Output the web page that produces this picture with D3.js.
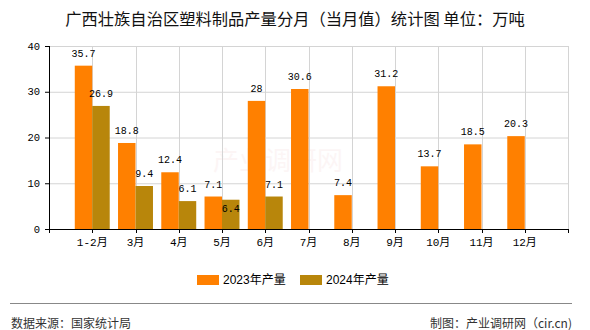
<!DOCTYPE html>
<html><head><meta charset="utf-8">
<script src="https://cdn.jsdelivr.net/npm/d3@7"></script>
<style>
html,body{margin:0;padding:0;background:#fff;}
svg{display:block;}
</style></head>
<body>
<svg id="chart" width="590" height="330"></svg>
<script>
const title = "广西壮族自治区塑料制品产量分月（当月值）统计图 单位：万吨";
const categories = ["1-2月","3月","4月","5月","6月","7月","8月","9月","10月","11月","12月"];
const series2023 = [35.7,18.8,12.4,7.1,28,30.6,7.4,31.2,13.7,18.5,20.3];
const series2024 = [26.9,9.4,6.1,6.4,7.1];
const seriesNames = ["2023年产量","2024年产量"];
const yTicks = [0,10,20,30,40];
const source = "数据来源：国家统计局";
const credit = "制图：产业调研网（cir.cn)";

const colors = ["#FF8000","#B8860B"];
const svg = d3.select("#chart");
const L = 49, R = 568, T = 46, B = 229;

const x = d3.scaleLinear().domain([0, categories.length + 1]).range([L, R]);
const y = d3.scaleLinear().domain([0, 40]).range([B, T]);
const unit = x(1) - x(0);
const bw = unit * 0.404;

// title
svg.append("text").attr("x", 295).attr("y", 25).attr("text-anchor","middle")
  .attr("font-family","'Noto Sans CJK SC',sans-serif").attr("font-size","16.3px")
  .attr("fill","#111").text(title);

// watermark
svg.append("text").attr("x", 278).attr("y", 170).attr("text-anchor","middle")
  .attr("font-family","'Noto Sans CJK SC',sans-serif").attr("font-size","26px")
  .attr("fill","#e8b4b4").attr("opacity",0.12).text("产业调研网");

// grid
const g = svg.append("g");
g.selectAll("line.hg").data(yTicks.filter(d=>d>0)).join("line")
  .attr("x1", L).attr("x2", R).attr("y1", d=>y(d)+0.5).attr("y2", d=>y(d)+0.5)
  .attr("stroke","#d4d4d4").attr("stroke-width",1);
g.selectAll("line.vg").data(d3.range(1, categories.length + 2)).join("line")
  .attr("x1", d=>Math.round(x(d))+0.5).attr("x2", d=>Math.round(x(d))+0.5)
  .attr("y1", T).attr("y2", B)
  .attr("stroke","#d4d4d4").attr("stroke-width",1);

// bars
const bars = svg.append("g");
bars.selectAll("rect.a").data(series2023).join("rect")
  .attr("x", (d,i)=>x(i+1)-bw).attr("width", bw)
  .attr("y", d=>y(d)).attr("height", d=>B-y(d)).attr("fill", colors[0]);
bars.selectAll("rect.b").data(series2024).join("rect")
  .attr("x", (d,i)=>x(i+1)).attr("width", bw)
  .attr("y", d=>y(d)).attr("height", d=>B-y(d)).attr("fill", colors[1]);

// labels
const lf = "'Liberation Mono','DejaVu Sans Mono',monospace";
const labA = series2023.map((d,i)=>({v:d, cx:x(i+1)-bw/2, by:y(d)-9}));
const labB = series2024.map((d,i)=>{
  let by = y(d)-9;
  const a = labA[i];
  if (Math.abs(by - a.by) < 11) by = y(d) + 12;
  return {v:d, cx:x(i+1)+bw/2, by};
});
svg.append("g").selectAll("text").data(labA.concat(labB)).join("text")
  .attr("x", d=>d.cx).attr("y", d=>d.by).attr("text-anchor","middle")
  .attr("font-family", lf).attr("font-size","10px").attr("fill","#000")
  .text(d=>String(d.v));

// axes
const ax = svg.append("g").attr("stroke","#000").attr("stroke-width",1);
ax.append("line").attr("x1",L+0.5).attr("x2",L+0.5).attr("y1",T).attr("y2",B+0.5);
ax.append("line").attr("x1",L).attr("x2",R+0.5).attr("y1",B+0.5).attr("y2",B+0.5);
ax.selectAll("line.yt").data(yTicks).join("line")
  .attr("x1",L-4).attr("x2",L).attr("y1",d=>y(d)+0.5).attr("y2",d=>y(d)+0.5);
ax.selectAll("line.xt").data(d3.range(0, categories.length + 2)).join("line")
  .attr("x1",d=>Math.round(x(d))+0.5).attr("x2",d=>Math.round(x(d))+0.5)
  .attr("y1",B).attr("y2",B+4);

svg.append("g").selectAll("text").data(yTicks).join("text")
  .attr("x", 40).attr("y", d=>y(d)+3.5).attr("text-anchor","end")
  .attr("font-family", lf).attr("font-size","10.5px").attr("fill","#000")
  .text(d=>d);

svg.append("g").selectAll("text").data(categories).join("text")
  .attr("x",(d,i)=>x(i+1)).attr("y", 246).attr("text-anchor","middle")
  .attr("font-family","'Liberation Mono','Noto Sans CJK SC',monospace").attr("font-size","11px")
  .attr("fill","#000").text(d=>d);

// legend
const leg = svg.append("g");
const legX = [197, 300];
seriesNames.forEach((n,i)=>{
  leg.append("rect").attr("x",legX[i]).attr("y",275).attr("width",22).attr("height",10).attr("fill",colors[i]);
  leg.append("text").attr("x",legX[i]+26).attr("y",284)
    .attr("font-family","'Liberation Sans','Noto Sans CJK SC',sans-serif").attr("font-size","12px")
    .attr("fill","#000").text(n);
});

// footer
svg.append("line").attr("x1",10).attr("x2",572).attr("y1",303.5).attr("y2",303.5)
  .attr("stroke","#888").attr("stroke-width",1.2);
svg.append("text").attr("x",11).attr("y",327.5).attr("font-family","'Noto Sans CJK SC',sans-serif")
  .attr("font-size","12px").attr("fill","#333").text(source);
svg.append("text").attr("x",572).attr("y",327.5).attr("text-anchor","end")
  .attr("font-family","'Noto Sans CJK SC',sans-serif")
  .attr("font-size","12px").attr("fill","#333").text(credit);
</script>
</body></html>
